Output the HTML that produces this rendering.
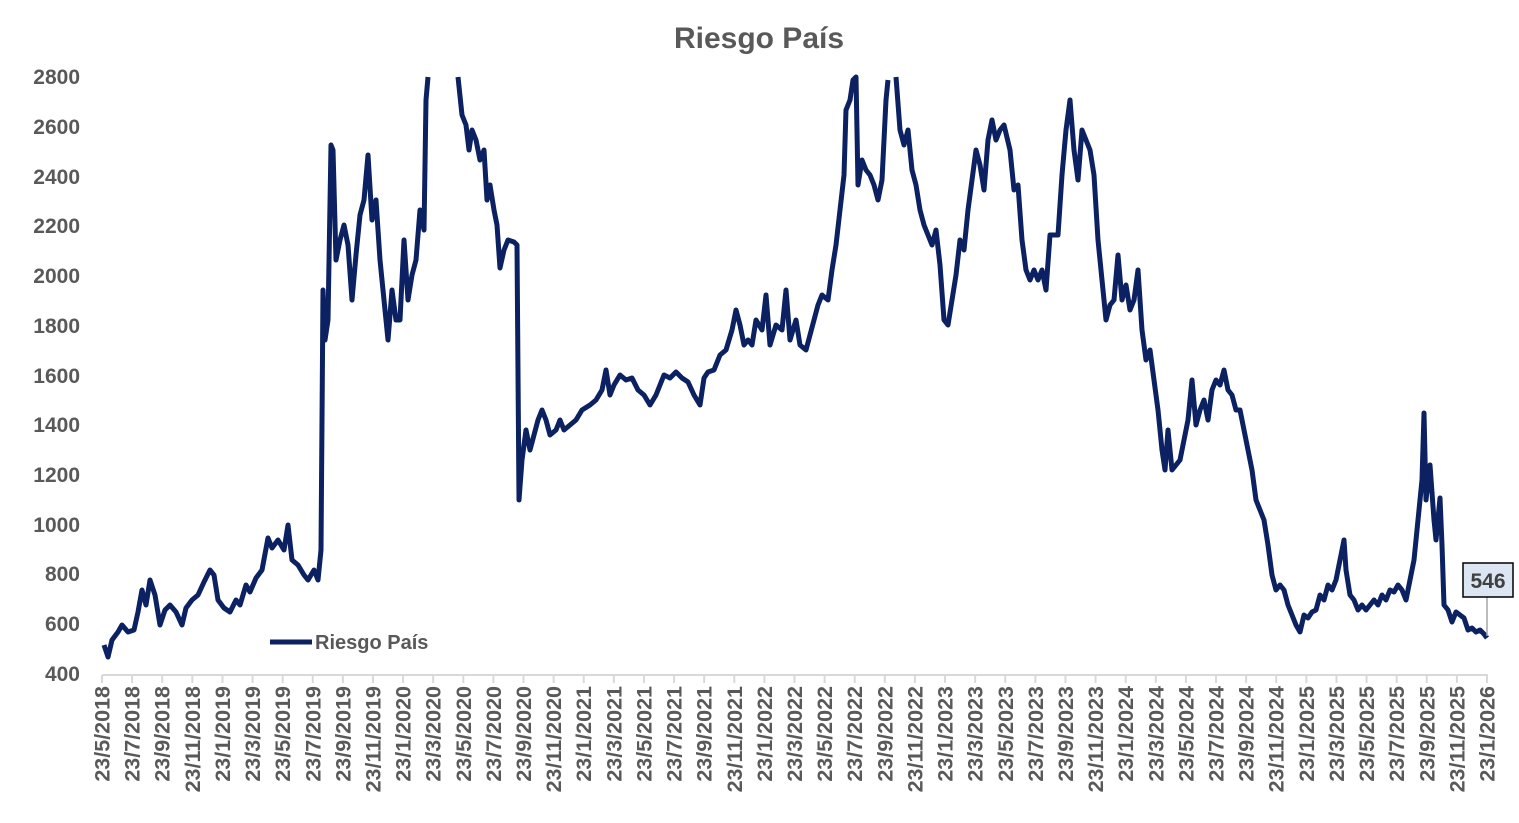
<!DOCTYPE html>
<html><head><meta charset="utf-8"><style>
html,body{margin:0;padding:0;background:#fff;}
svg{display:block;font-family:"Liberation Sans",sans-serif;font-weight:bold;}
</style></head><body>
<svg width="1519" height="823" viewBox="0 0 1519 823" xmlns="http://www.w3.org/2000/svg">
<text x="759" y="48" text-anchor="middle" font-size="30" fill="#595959">Riesgo País</text>
<g font-size="21" fill="#595959" text-anchor="end">
<text x="80" y="84">2800</text><text x="80" y="134">2600</text><text x="80" y="184">2400</text>
<text x="80" y="233">2200</text><text x="80" y="283">2000</text><text x="80" y="333">1800</text>
<text x="80" y="383">1600</text><text x="80" y="432">1400</text><text x="80" y="482">1200</text>
<text x="80" y="532">1000</text><text x="80" y="581">800</text><text x="80" y="631">600</text>
<text x="80" y="681">400</text>
</g>
<line x1="102" y1="675" x2="1488" y2="675" stroke="#d9d9d9" stroke-width="2"/>
<g id="ticks" stroke="#d9d9d9" stroke-width="2"></g>
<g id="xl" font-size="21.5" fill="#595959" text-anchor="end"></g>
<g fill="none" stroke="#0b2161" stroke-width="5" stroke-linejoin="round">
<polyline points="104,645 108,657 112,640 118,632 122,625 128,632 134,630 138,612 142,590 146,605 150,580 155,595 160,625 165,610 170,605 176,612 182,625 186,608 192,600 198,595 204,582 210,570 214,575 218,600 224,608 230,612 236,600 240,605 246,585 250,592 256,578 262,570 268,538 272,548 278,540 284,550 288,525 292,560 298,565 304,575 308,580 314,570 318,580 321,550 323,290 325,340 328,320 331,145 333,150 336,260 340,240 344,225 348,245 352,300 356,255 360,215 364,200 368,155 372,220 376,200 380,260 384,300 388,340 392,290 396,320 400,320 404,240 408,300 412,275 416,260 420,210 424,230 426,100 428,77"/>
<polyline points="458,77 462,115 466,125 469,150 472,130 476,140 480,160 484,150 487,200 490,185 494,210 497,225 500,268 504,250 508,240 514,242 517,245 519,500 522,460 526,430 530,450 534,435 538,420 542,410 546,420 550,435 556,430 560,420 564,430 570,425 576,420 582,410 590,405 596,400 602,390 606,370 610,395 614,385 620,375 626,380 632,378 638,390 644,395 650,405 656,395 660,385 664,375 670,378 676,372 682,378 688,382 694,395 700,405 704,378 708,372 714,370 720,355 726,350 732,330 736,310 740,325 744,345 748,340 752,345 756,320 762,330 766,295 770,345 776,325 782,330 786,290 790,340 796,320 800,345 806,350 810,335 814,320 818,305 822,295 828,300 832,270 836,245 840,210 844,175 846,110 850,100 853,80 856,77 858,185 862,160 866,170 870,175 874,185 878,200 882,180 886,100 888,80"/>
<polyline points="896,77 900,130 904,145 908,130 912,170 916,185 920,210 924,225 928,235 932,245 936,230 940,265 944,320 948,325 952,300 956,275 960,240 964,250 968,210 972,180 976,150 980,165 984,190 988,140 992,120 996,140 1000,130 1004,125 1010,150 1014,190 1018,185 1022,240 1026,270 1030,280 1034,270 1038,280 1042,270 1046,290 1050,235 1054,235 1058,235 1062,175 1066,130 1070,100 1074,150 1078,180 1082,130 1086,140 1090,150 1094,175 1098,240 1102,280 1106,320 1110,305 1114,300 1118,255 1122,300 1126,285 1130,310 1134,300 1138,270 1142,330 1146,360 1150,350 1154,380 1158,410 1162,450 1165,470 1168,430 1172,470 1176,465 1180,460 1184,440 1188,420 1192,380 1196,425 1200,410 1204,400 1208,420 1212,390 1216,380 1220,385 1224,370 1228,390 1232,395 1236,410 1240,410 1244,430 1248,450 1252,470 1256,500 1260,510 1264,520 1268,545 1272,575 1276,590 1280,585 1284,590 1288,605 1292,615 1296,625 1300,632 1304,615 1308,618 1312,612 1316,610 1320,595 1324,600 1328,585 1332,590 1336,580 1340,560 1344,540 1346,570 1350,595 1354,600 1358,610 1362,605 1366,610 1370,605 1374,600 1378,605 1382,595 1386,600 1390,590 1394,592 1398,585 1402,590 1406,600 1410,580 1414,560 1418,520 1422,480 1424,413 1426,500 1430,465 1434,520 1436,540 1440,498 1442,545 1444,605 1448,610 1452,622 1456,612 1460,615 1464,618 1468,630 1472,628 1476,632 1480,630 1484,634 1487,638"/>
</g>
<line x1="1487" y1="597" x2="1487" y2="636" stroke="#a6a6a6" stroke-width="1.5"/>
<rect x="1463" y="563" width="50" height="34" fill="#dce6f2" stroke="#000" stroke-width="1.5"/>
<text x="1488" y="588" text-anchor="middle" font-size="21" fill="#404040">546</text>
<line x1="270" y1="642" x2="312" y2="642" stroke="#0b2161" stroke-width="5"/>
<text x="315" y="649" font-size="20" fill="#595959">Riesgo País</text>
</svg>
<script>
(function(){
var ns="http://www.w3.org/2000/svg";
var t=document.getElementById("ticks"),xl=document.getElementById("xl");
var m=5,y=2018;
for(var i=0;i<=46;i++){
 var x=102+i*(1487-102)/46;
 var l=document.createElementNS(ns,"line");
 l.setAttribute("x1",x);l.setAttribute("x2",x);l.setAttribute("y1",675);l.setAttribute("y2",683);
 t.appendChild(l);
 var tx=document.createElementNS(ns,"text");
 tx.setAttribute("transform","translate("+(x+7.5)+",686) rotate(-90)");
 tx.textContent="23/"+m+"/"+y;
 xl.appendChild(tx);
 m+=2; if(m>12){m-=12;y++;}
}
})();
</script>
</body></html>
